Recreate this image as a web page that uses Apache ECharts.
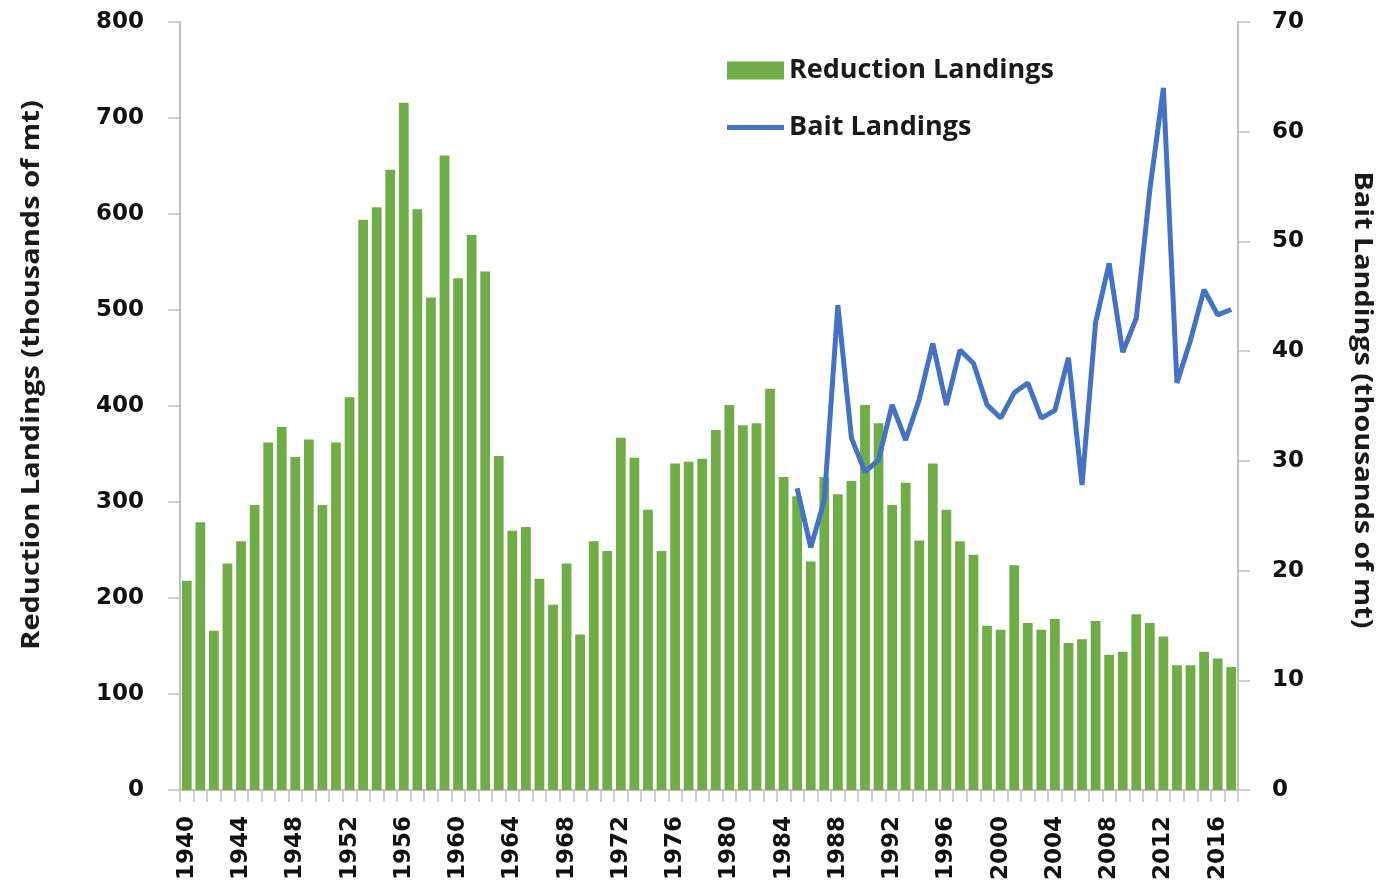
<!DOCTYPE html>
<html><head><meta charset="utf-8">
<script src="https://cdn.jsdelivr.net/npm/echarts@6/dist/echarts.min.js"></script>
<style>html,body{margin:0;padding:0;background:#fff}#c{width:1383px;height:886px}</style>
</head><body><div id="c"></div>
<script>
const years = [];
for (let y = 1940; y <= 2017; y++) years.push(String(y));
const reduction = [218,279,166,236,259,297,362,378,347,365,297,362,409,594,607,646,716,605,513,661,533,578,540,348,270,274,220,193,236,162,259,249,367,346,292,249,340,342,345,375,401,380,382,418,326,306,238,326,308,322,401,382,297,320,260,340,292,259,245,171,167,234,174,167,178,153,157,176,141,144,183,174,160,130,130,144,137,128];
const bait = [null,null,null,null,null,null,null,null,null,null,null,null,null,null,null,null,null,null,null,null,null,null,null,null,null,null,null,null,null,null,null,null,null,null,null,null,null,null,null,null,null,null,null,null,null,27.5,22.1,26.4,44.2,32.1,29.0,30.1,35.1,31.9,35.6,40.7,35.1,40.1,38.9,35.1,33.9,36.2,37.1,33.9,34.6,39.4,27.8,42.6,48.0,39.9,43.0,54.7,64.0,37.1,41.0,45.6,43.3,43.8];
const leftTicks = [0,100,200,300,400,500,600,700,800];
const rightTicks = [0,10,20,30,40,50,60,70];

const chart = echarts.init(document.getElementById('c'));
const tickFont = {fontFamily:'DejaVu Sans, sans-serif', fontWeight:'bold', fontSize:23, color:'#111'};
const nameFont = 'bold 25px "Open Sans", "Noto Sans", sans-serif';
chart.setOption({
  animation:false,
  backgroundColor:'#fff',
  grid:{left:180, right:145, top:22, bottom:96, containLabel:false},
  legend:{
    orient:'vertical', left:722, top:52, itemWidth:57, itemHeight:18, itemGap:30,
    textStyle:{fontFamily:'"Open Sans", "Noto Sans", sans-serif', fontWeight:'bold', fontSize:27, color:'#1a1a1a', lineHeight:18, padding:[0,0,0,0]},
    data:[{name:'Reduction Landings', icon:'rect'}, {name:'Bait Landings', icon:'path://M0,0 H57 V5 H0 Z'}]
  },
  xAxis:{
    type:'category', data:years, boundaryGap:true,
    axisLine:{lineStyle:{color:'#c0c0c0', width:2}},
    axisTick:{show:true, interval:0, length:12, lineStyle:{color:'#c0c0c0', width:1.5}},
    axisLabel:Object.assign({interval:3, rotate:90, margin:26}, tickFont)
  },
  yAxis:[{
    type:'value', min:0, max:800, interval:100,
    axisLine:{show:true, lineStyle:{color:'#c0c0c0', width:2}},
    axisTick:{show:true, length:12, lineStyle:{color:'#c0c0c0', width:1.5}},
    splitLine:{show:false},
    axisLabel:Object.assign({margin:36}, tickFont)
  },{
    type:'value', min:0, max:70, interval:10,
    axisLine:{show:true, lineStyle:{color:'#c0c0c0', width:2}},
    axisTick:{show:true, length:12, lineStyle:{color:'#c0c0c0', width:1.5}},
    splitLine:{show:false},
    axisLabel:Object.assign({margin:34}, tickFont)
  }],
  graphic:[
    {type:'text', x:32, y:375, rotation:Math.PI/2, scaleX:1.16,
     style:{text:'Reduction Landings (thousands of mt)', x:0, y:0, align:'center', verticalAlign:'middle',
       font:nameFont, fill:'#1a1a1a'}},
    {type:'text', x:1362, y:400, rotation:-Math.PI/2, scaleX:1.15,
     style:{text:'Bait Landings (thousands of mt)', x:0, y:0, align:'center', verticalAlign:'middle',
       font:nameFont, fill:'#1a1a1a'}}
  ],
  series:[
    {name:'Reduction Landings', type:'bar', data:reduction, barWidth:'72%', itemStyle:{color:'#70ad47'}, yAxisIndex:0},
    {name:'Bait Landings', type:'line', data:bait, yAxisIndex:1, showSymbol:false, symbol:'none',
     lineStyle:{color:'#4472c4', width:5}, itemStyle:{color:'#4472c4'}, connectNulls:false}
  ]
});
</script></body></html>
